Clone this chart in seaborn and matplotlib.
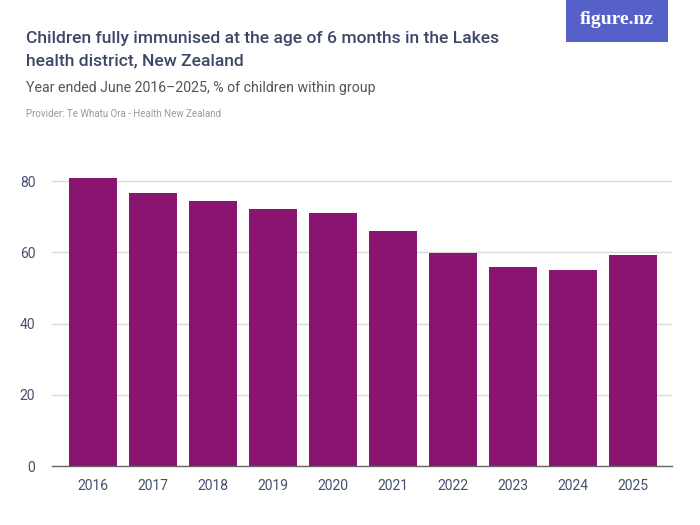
import matplotlib
matplotlib.use("Agg")
import matplotlib.pyplot as plt
import seaborn as sns
import pandas as pd
from matplotlib.patches import Rectangle

years = ["2016", "2017", "2018", "2019", "2020", "2021", "2022", "2023", "2024", "2025"]
values = [81.0, 76.8, 74.4, 72.3, 71.2, 65.9, 59.9, 55.8, 55.0, 59.2]
yticks = [0, 20, 40, 60, 80]

df = pd.DataFrame({"year": years, "value": values})

sns.set_theme(style="white")
plt.rcParams['font.family'] = ['Roboto', 'DejaVu Sans']

fig = plt.figure(figsize=(7, 5.25), dpi=100)
ax = fig.add_axes([52/700, 59/525, 620/700, 299/525])

sns.barplot(data=df, x="year", y="value", color="#8a1570", width=0.8,
            saturation=1, ax=ax, edgecolor="none")

ax.set_xlim(-0.68, 9.65)
ax.set_ylim(0, 84)
ax.set_yticks(yticks)
ax.set_yticklabels([str(v) for v in yticks])
ax.yaxis.grid(True, color="#d9d9d9", linewidth=1)
ax.set_axisbelow(True)
ax.set_xlabel("")
ax.set_ylabel("")
for s in ["top", "right", "left"]:
    ax.spines[s].set_visible(False)
ax.spines["bottom"].set_color("#666666")
ax.spines["bottom"].set_linewidth(1)
ax.tick_params(axis="x", colors="#666666", length=5, width=1, labelcolor="#46506e", labelsize=10, pad=4)
ax.tick_params(axis="y", length=0, labelcolor="#46506e", labelsize=10, pad=12)

fig.text(26/700, 1 - 49.5/525, "Children fully immunised at the age of 6 months in the Lakes\nhealth district, New Zealand",
         fontsize=12.6, color="#3c4866", fontweight="medium", va="center", ha="left", linespacing=1.62)
fig.text(26/700, 1 - 88/525, "Year ended June 2016\u20132025, % of children within group",
         fontsize=10.2, color="#555555", va="center", ha="left")
fig.text(26/700, 1 - 114/525, "Provider: Te Whatu Ora - Health New Zealand",
         fontsize=7, color="#999999", va="center", ha="left")

fig.patches.append(Rectangle((566/700, 1 - 42/525), 102/700, 42/525, transform=fig.transFigure,
                             facecolor="#5561c8", edgecolor="none"))
fig.text(617/700, 1 - 20/525, "figure.nz", fontsize=14, color="white", ha="center", va="center",
         fontweight="bold", family=["Liberation Serif", "DejaVu Serif"])

fig.savefig("out.png", dpi=100)
